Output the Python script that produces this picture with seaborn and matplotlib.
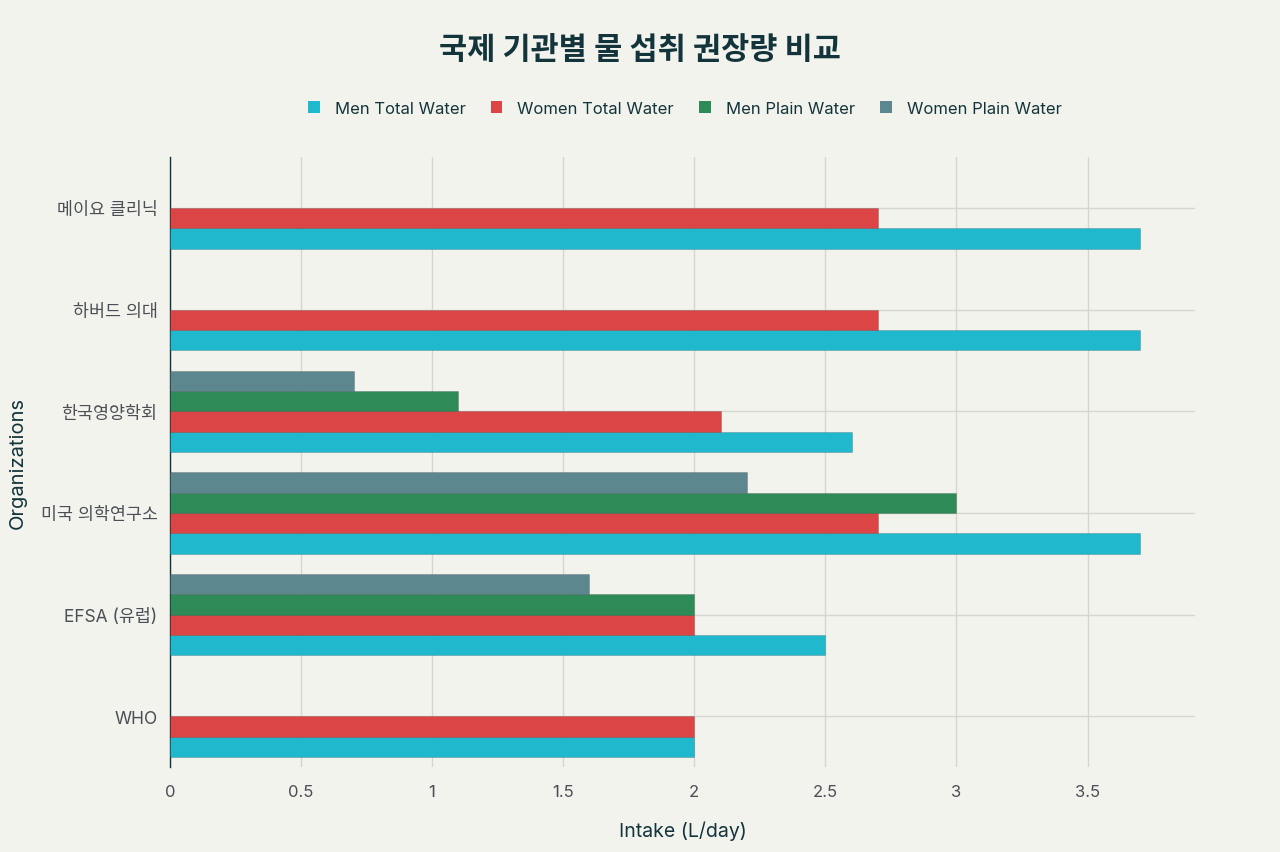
import pandas as pd
import numpy as np
import matplotlib
matplotlib.use('Agg')
import matplotlib.pyplot as plt
import seaborn as sns
from matplotlib.patches import Patch

# data (bottom to top, as drawn)
orgs = ['WHO', 'EFSA (유럽)', '미국 의학연구소', '한국영양학회', '하버드 의대', '메이요 클리닉']
men_total = [2.0, 2.5, 3.7, 2.6, 3.7, 3.7]
women_total = [2.0, 2.0, 2.7, 2.1, 2.7, 2.7]
men_plain = [np.nan, 2.0, 3.0, 1.1, np.nan, np.nan]
women_plain = [np.nan, 1.6, 2.2, 0.7, np.nan, np.nan]

series = ['Men Total Water', 'Women Total Water', 'Men Plain Water', 'Women Plain Water']
colors = ['#1FB8CD', '#DB4545', '#2E8B57', '#5D878F']

df = pd.DataFrame({'org': orgs, series[0]: men_total, series[1]: women_total,
                   series[2]: men_plain, series[3]: women_plain})
long = df.melt(id_vars='org', var_name='series', value_name='value').dropna()

bg = '#F3F3EE'
sns.set_theme(style='white')
plt.rcParams['font.family'] = ['Inter', 'Noto Sans CJK KR', 'DejaVu Sans']

fig = plt.figure(figsize=(12.8, 8.53), dpi=100, facecolor=bg)
ax = fig.add_axes([170 / 1280, 1 - 768 / 853, 1025 / 1280, 610 / 853])
ax.set_facecolor(bg)

sns.barplot(data=long, y='org', x='value', hue='series', order=orgs, hue_order=series,
            palette=colors, orient='h', saturation=1, width=0.8, dodge=True,
            edgecolor='#00000030', linewidth=0.6, ax=ax, legend=False, zorder=3)

ax.set_ylim(-0.5, 5.5)
ax.set_xlim(0, 3.91)
ax.set_xticks([0, 0.5, 1, 1.5, 2, 2.5, 3, 3.5])
ax.set_xticklabels(['0', '0.5', '1', '1.5', '2', '2.5', '3', '3.5'])

ax.grid(True, axis='both', color='#D6D6D1', linewidth=1, zorder=0)
ax.set_axisbelow(True)
for s in ['top', 'right', 'bottom']:
    ax.spines[s].set_visible(False)
ax.spines['left'].set_color('#13343B')
ax.spines['left'].set_linewidth(1)

ax.tick_params(axis='both', colors='#D0D0CC', length=5, width=1, labelsize=12,
               labelcolor='#4A4F55')
ax.tick_params(axis='y', labelsize=12.5, pad=4)
ax.tick_params(axis='x', pad=7)

ax.set_xlabel('Intake (L/day)', fontsize=14, color='#13343B', labelpad=16)
ax.set_ylabel('Organizations', fontsize=14.5, color='#13343B', labelpad=10)

fig.text(0.5, 1 - 50 / 853, '국제 기관별 물 섭취 권장량 비교', ha='center', va='center',
         fontsize=22, fontweight='bold', color='#13343B')

handles = [Patch(facecolor=c, edgecolor='none') for c in colors]
fig.legend(handles, series, loc='center', bbox_to_anchor=(0.535, 1 - 109 / 853), ncol=4,
           frameon=False, fontsize=12, handlelength=0.7, handleheight=0.7,
           handletextpad=0.9, columnspacing=1.5, labelcolor='#13343B')

fig.savefig('out.png', dpi=100, facecolor=bg)
